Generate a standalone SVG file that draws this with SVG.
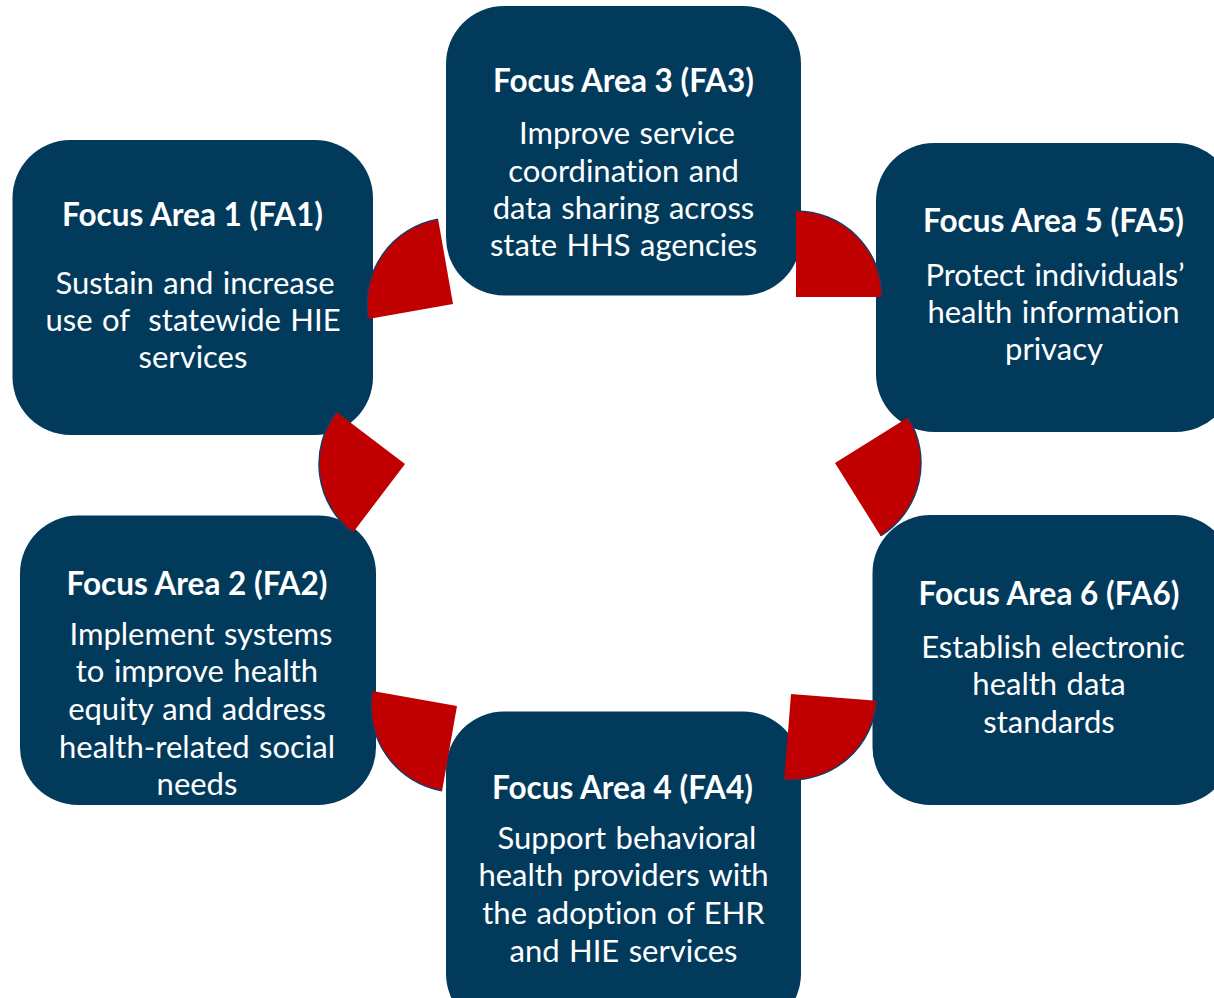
<svg xmlns="http://www.w3.org/2000/svg" width="1214" height="998" viewBox="0 0 1214 998">
<style>
.box{fill:#023A5C;}
.t{font-family:Lato,"Liberation Sans",sans-serif;fill:#FFFFFF;text-anchor:middle;font-variant-ligatures:none;}
.h{font-weight:bold;font-size:31.5px;}
.b{font-size:31px;word-spacing:1.5px;}
.w{fill:#C00000;stroke:none;}
.arc{fill:none;stroke:#1F3864;stroke-width:1.5;}
</style>
<rect width="1214" height="998" fill="#FFFFFF"/>
<g id="fa1">
<rect class="box" x="12.5" y="140" width="360.5" height="295" rx="58" ry="58"/>
<text class="t h" x="192.5" y="226">Focus Area 1 (FA1)</text>
<text class="t b" x="195" y="294">Sustain and increase</text>
<text class="t b" x="193" y="331" xml:space="preserve">use of  statewide HIE</text>
<text class="t b" x="193" y="367.5">services</text>
</g>
<g id="fa3">
<rect class="box" x="446" y="6" width="355" height="289.5" rx="58" ry="58"/>
<text class="t h" x="623.5" y="91.5">Focus Area 3 (FA3)</text>
<text class="t b" x="627" y="143.5">Improve service</text>
<text class="t b" x="623.5" y="181.5">coordination and</text>
<text class="t b" x="623.5" y="218.5">data sharing across</text>
<text class="t b" x="623.5" y="256">state HHS agencies</text>
</g>
<g id="fa5">
<rect class="box" x="876" y="143" width="358" height="289" rx="58" ry="58"/>
<text class="t h" x="1053.5" y="231.5">Focus Area 5 (FA5)</text>
<text class="t b" x="1055" y="286">Protect individuals’</text>
<text class="t b" x="1053.5" y="322.5">health information</text>
<text class="t b" x="1054" y="359.5">privacy</text>
</g>
<g id="fa2">
<rect class="box" x="20" y="515.5" width="356" height="289.5" rx="58" ry="58"/>
<text class="t h" x="197" y="594.5">Focus Area 2 (FA2)</text>
<text class="t b" x="201" y="645">Implement systems</text>
<text class="t b" x="197" y="682">to improve health</text>
<text class="t b" x="197" y="719.5">equity and address</text>
<text class="t b" x="197" y="757.5">health-related social</text>
<text class="t b" x="197" y="795">needs</text>
</g>
<g id="fa6">
<rect class="box" x="872.5" y="515" width="360" height="290" rx="58" ry="58"/>
<text class="t h" x="1049" y="605">Focus Area 6 (FA6)</text>
<text class="t b" x="1053" y="657.5">Establish electronic</text>
<text class="t b" x="1049" y="695">health data</text>
<text class="t b" x="1049" y="732.5">standards</text>
</g>
<g id="fa4">
<rect class="box" x="446" y="711.5" width="355" height="320" rx="58" ry="58"/>
<text class="t h" x="622.5" y="798.5">Focus Area 4 (FA4)</text>
<text class="t b" x="627" y="848.5">Support behavioral</text>
<text class="t b" x="623.5" y="886">health providers with</text>
<text class="t b" x="623.5" y="924">the adoption of EHR</text>
<text class="t b" x="623.5" y="961.5">and HIE services</text>
</g>
<g id="connectors">
<path class="w" d="M453,304 L438.1,219.3 A86,86 0 0,0 368.3,318.9 Z"/>
<path class="arc" d="M438.1,219.3 A86,86 0 0,0 368.3,318.9"/>
<path class="w" d="M796,297 L796,211 A86,86 0 0,1 882,297 Z"/>
<path class="arc" d="M796,211 A86,86 0 0,1 882,297"/>
<path class="w" d="M405,464 L336.5,412 A86,86 0 0,0 353,532.5 Z"/>
<path class="arc" d="M336.5,412 A86,86 0 0,0 353,532.5"/>
<path class="w" d="M835,463 L907.9,417.4 A86,86 0 0,1 880.6,535.9 Z"/>
<path class="arc" d="M907.9,417.4 A86,86 0 0,1 880.6,535.9"/>
<path class="w" d="M457,706 L372.3,691.1 A86,86 0 0,0 442.1,790.7 Z"/>
<path class="arc" d="M372.3,691.1 A86,86 0 0,0 442.1,790.7"/>
<path class="w" d="M791,694 L876.7,700.75 A86,86 0 0,1 784.25,779.7 Z"/>
<path class="arc" d="M876.7,700.75 A86,86 0 0,1 784.25,779.7"/>
</g>
</svg>
